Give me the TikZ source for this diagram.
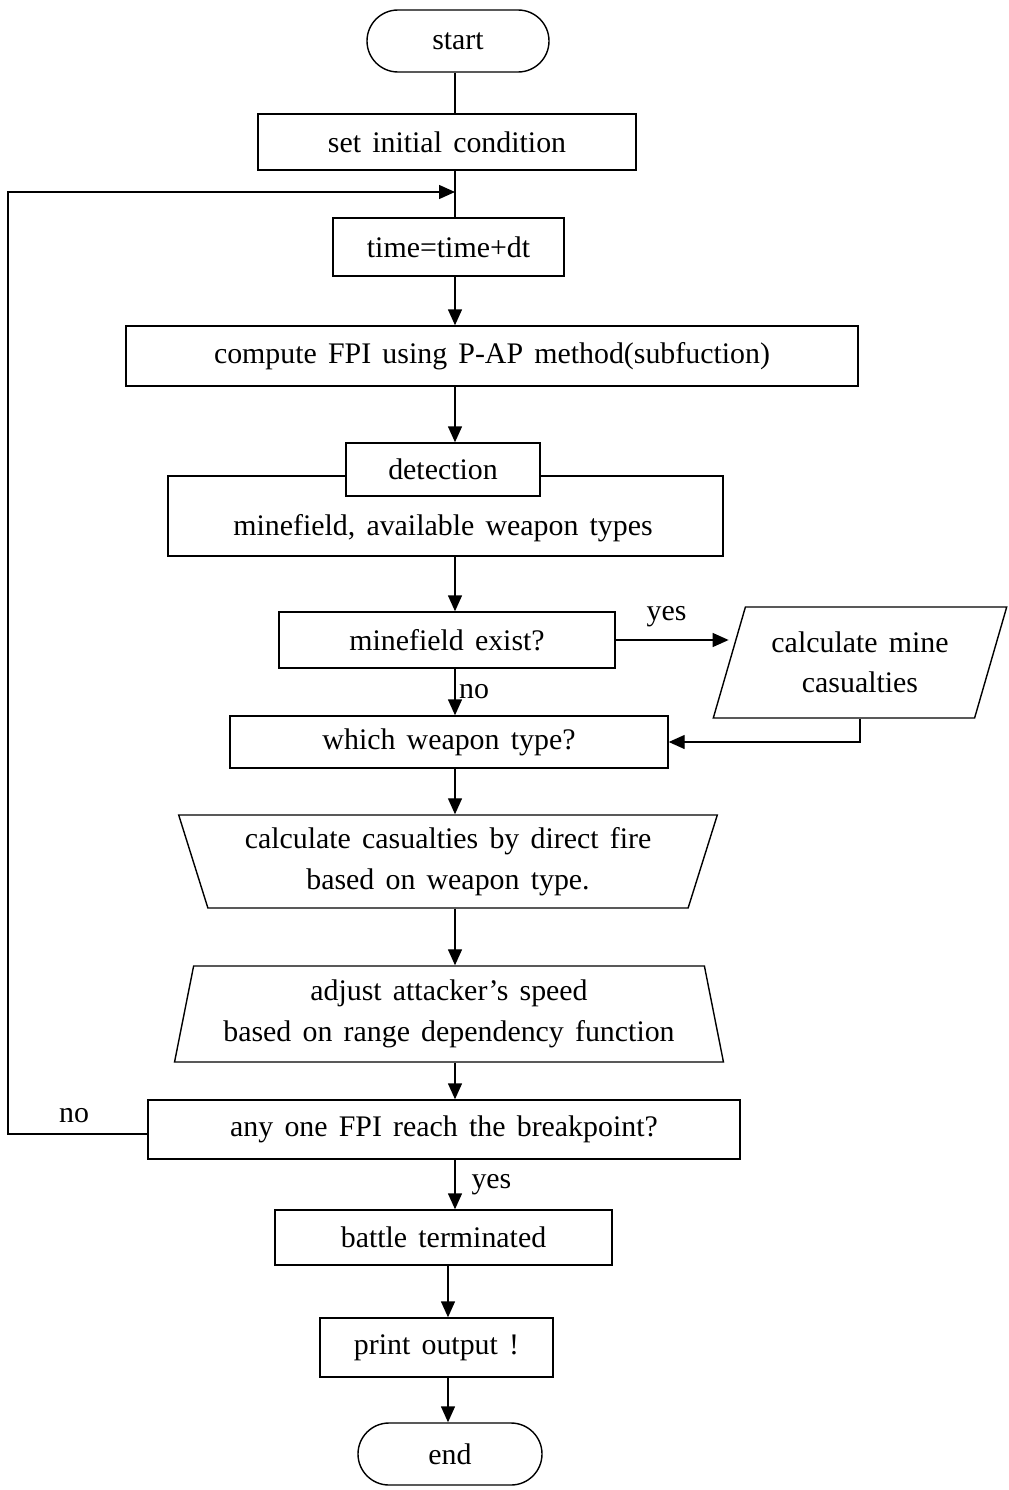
\documentclass[tikz,border=0pt]{standalone}
\usepackage{fontspec}
\setmainfont[WordSpace=1.5]{Liberation Serif}
\usepackage{tikz}
\usetikzlibrary{positioning, shapes.geometric, shapes.misc, arrows.meta, calc}

\begin{document}
\begin{tikzpicture}[x=0.2mm, y=-0.2mm, line width=0.8pt,
	every node/.style={font=\fontsize{17}{23}\selectfont}]
	\tikzstyle{procbox}=[draw=black, rectangle, inner sep=0pt, fill=white, text=black]
	\tikzstyle{termbox}=[draw=black, rounded rectangle, inner sep=0pt, minimum width=36.4mm, minimum height=12.4mm]
	\tikzstyle{trapbox}=[draw=black, trapezium, trapezium stretches=true, inner sep=0pt, align=center]
	\tikzstyle{lbl}=[draw=none, inner sep=1pt]
	\tikzstyle{arr}=[-{Triangle[length=3.2mm, width=2.8mm]}]
	
	\useasboundingbox (0,0) rectangle (1009,1490);
	\coordinate (spine) at (455,0);
	\coordinate (spinelow) at (448,0);
	
	\node [termbox] (start) at (458,41) {start};
	\node [procbox, minimum width=75.6mm, minimum height=11.2mm] (init) at (447,142) {set initial condition};
	\node [procbox, minimum width=46.2mm, minimum height=11.6mm] (tstep) at (448.5,247) {time=time+dt};
	\node [procbox, minimum width=146.4mm, minimum height=12mm] (fpi) at (492,356) {compute FPI using P-AP method(subfuction)};
	
	%% detection block: outer frame first, the small box sits on its top edge
	\node [procbox, minimum width=111mm, minimum height=16mm] (field) at (445.5,516) {};
	\node [lbl] (avail) at (443,528) {minefield, available weapon types};
	\node [procbox, minimum width=38.8mm, minimum height=10.6mm] (detect) at (443,469.5) {detection};
	
	\node [procbox, minimum width=67.2mm, minimum height=11.2mm] (mfield) at (447,640) {minefield exist?};
	\node [trapbox, trapezium left angle=68, trapezium right angle=112, minimum width=58.8mm, minimum height=22.2mm] (mine) at (860,662.5) {calculate mine\\casualties};
	\node [procbox, minimum width=87.6mm, minimum height=10.4mm] (wtype) at (449,742) {which weapon type?};
	
	\node [trapbox, shape border rotate=180, trapezium left angle=70, trapezium right angle=70, minimum width=108mm, minimum height=18.6mm] (fire) at (448,861.5) {calculate casualties by direct fire\\based on weapon type.};
	\node [trapbox, trapezium left angle=76, trapezium right angle=76, minimum width=110mm, minimum height=19.2mm] (speed) at (449,1014) {adjust attacker’s speed\\based on range dependency function};
	
	\node [procbox, minimum width=118.4mm, minimum height=11.8mm] (bpoint) at (444,1129.5) {any one FPI reach the breakpoint?};
	\node [procbox, minimum width=67.4mm, minimum height=11mm] (battle) at (443.5,1237.5) {battle terminated};
	\node [procbox, minimum width=46.6mm, minimum height=11.8mm] (print) at (436.5,1347.5) {print output !};
	\node [termbox, minimum width=36.8mm] (stop) at (450,1454) {end};
	
	\coordinate (loopin) at (455,192);
	\coordinate (loopcorner) at (8,1134);
	
	\draw (spine |- start.south) -- (spine |- init.north);
	\draw (spine |- init.south) -- (spine |- tstep.north);
	\draw [arr] (spine |- tstep.south) -- (spine |- fpi.north);
	\draw [arr] (spine |- fpi.south) -- (spine |- detect.north);
	\draw [arr] (spine |- field.south) -- (spine |- mfield.north);
	\draw [arr] (mfield.east) -- (mfield.east -| mine.west) node [lbl, pos=0.45, above=6pt] (yes1) {yes};
	\draw [arr] (spine |- mfield.south) -- (spine |- wtype.north) node [lbl, midway, right=1pt] (no1) {no};
	\draw [arr] (mine.south) |- (wtype.east);
	\draw [arr] (spine |- wtype.south) -- (spine |- fire.north);
	\draw [arr] (spine |- fire.south) -- (spine |- speed.north);
	\draw [arr] (spine |- speed.south) -- (spine |- bpoint.north);
	\draw [arr] (bpoint.west |- loopcorner) -- (loopcorner) |- (loopin);
	\node [lbl] (no2) at (74,1116) {no};
	\draw [arr] (spine |- bpoint.south) -- (spine |- battle.north) node [lbl, midway, right=8pt] (yes2) {yes};
	\draw [arr] (spinelow |- battle.south) -- (spinelow |- print.north);
	\draw [arr] (spinelow |- print.south) -- (spinelow |- stop.north);
	
\end{tikzpicture}
\end{document}
